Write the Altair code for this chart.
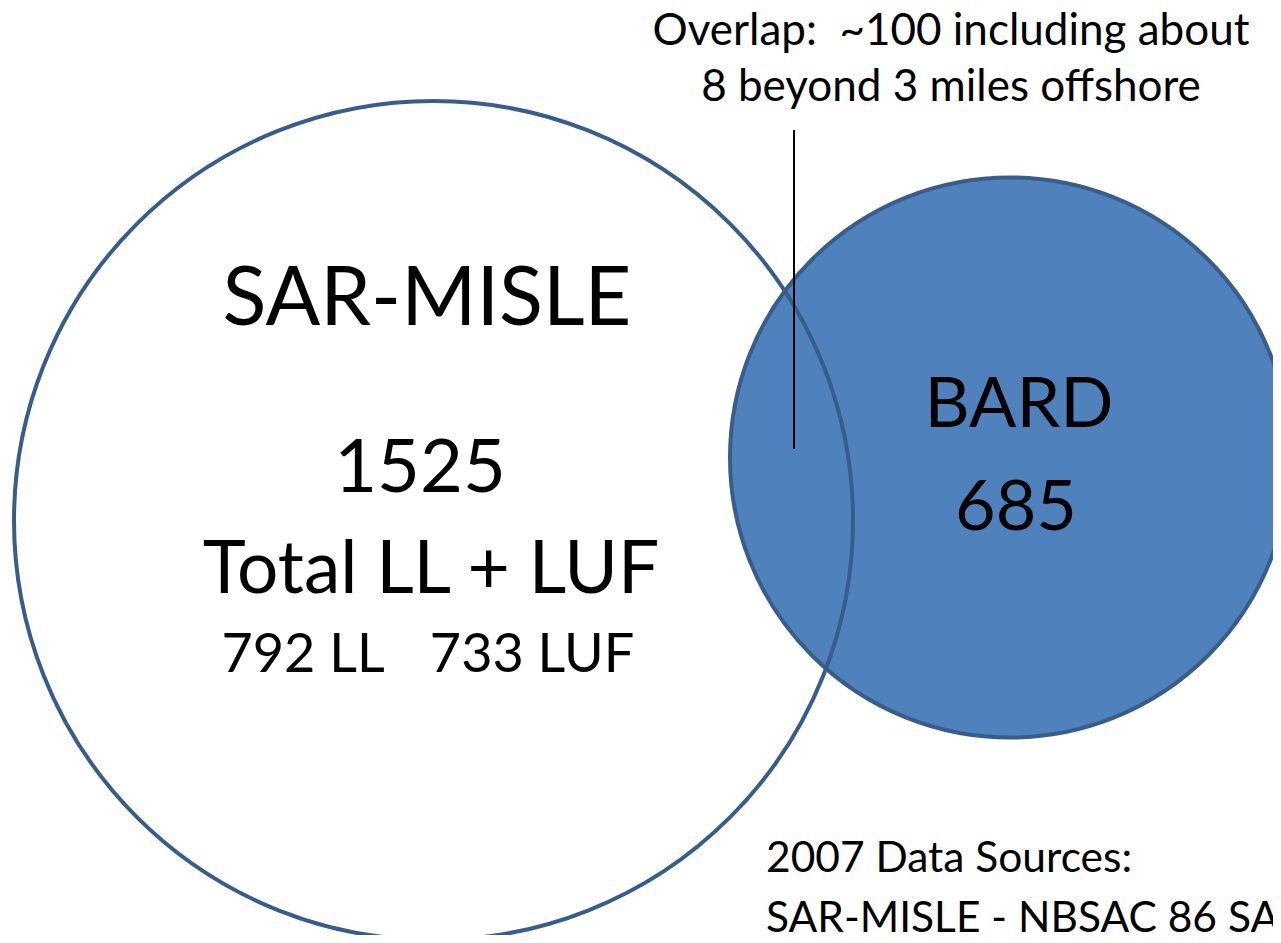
import altair as alt
import pandas as pd

# ---- chart values ----
set_names = ["SAR-MISLE", "BARD"]
set_totals = [1525, 685]
sar_parts = ["792 LL", "733 LUF"]
overlap_lines = ["Overlap:\u00a0\u00a0~100 including about", "8 beyond 3 miles offshore"]
source_lines = ["2007 Data Sources:", "SAR-MISLE - NBSAC 86 SAR"]

# ---- layout (pixel coordinates of the slide) ----
W, H = 1265, 927
circle_cx = [433.5, 1010]
circle_cy = [520.5, 457.5]
circle_r = [419.5, 280]

FONT = "Lato"
BLUE = "#4F81BD"
EDGE = "#385D8A"

circles = pd.DataFrame({
    "name": set_names,
    "cx": circle_cx,
    "cy": circle_cy,
    "size": [(2 * r) ** 2 for r in circle_r],
})

center_texts = pd.DataFrame({
    "text": [set_names[0], str(set_totals[0]), "Total LL + LUF", sar_parts[0], sar_parts[1],
             set_names[1], str(set_totals[1]), overlap_lines[0], overlap_lines[1]],
    "x": [427, 420, 431, 303, 532, 1019, 1016, 951, 951],
    "y": [325, 492, 593, 672, 672, 427, 530, 45, 101],
    "fs": [81, 74, 73, 54, 54, 70, 70, 44, 44],
})

left_texts = pd.DataFrame({
    "text": source_lines,
    "x": [766, 766],
    "y": [872, 932],
    "fs": [42.5, 42.5],
})

pointer = pd.DataFrame({"x": [794], "y": [130], "y2": [449]})

xs = alt.Scale(domain=[8, 8 + W], nice=False, zero=False)
ys = alt.Scale(domain=[8, 8 + H], nice=False, zero=False, reverse=True)

def X(f):
    return alt.X(f, type="quantitative", scale=xs, axis=None)

def Y(f):
    return alt.Y(f, type="quantitative", scale=ys, axis=None)

blue = alt.Chart(circles[circles.name == "BARD"]).mark_circle(
    fill=BLUE, stroke=EDGE, strokeWidth=4, opacity=1, fillOpacity=1, strokeOpacity=1, clip=True
).encode(x=X("cx"), y=Y("cy"), size=alt.Size("size:Q", scale=None, legend=None))

white = alt.Chart(circles[circles.name == "SAR-MISLE"]).mark_circle(
    fill="white", fillOpacity=0, stroke=EDGE, strokeWidth=4, opacity=1, strokeOpacity=1, clip=True
).encode(x=X("cx"), y=Y("cy"), size=alt.Size("size:Q", scale=None, legend=None))

rule = alt.Chart(pointer).mark_rule(color="black", strokeWidth=2).encode(
    x=X("x"), y=Y("y"), y2="y2"
)

txt_c = alt.Chart(center_texts).mark_text(
    font=FONT, align="center", baseline="alphabetic", color="black"
).encode(x=X("x"), y=Y("y"), text="text:N", size=alt.Size("fs:Q", scale=None, legend=None))

txt_l = alt.Chart(left_texts).mark_text(
    font=FONT, align="left", baseline="alphabetic", color="black", clip=True
).encode(x=X("x"), y=Y("y"), text="text:N", size=alt.Size("fs:Q", scale=None, legend=None))

chart = alt.layer(blue, white, rule, txt_c, txt_l).properties(
    width=W, height=H, padding=0, autosize="none", background="white"
).configure_view(stroke=None)

chart.save("out.html", embed_options={"renderer": "svg", "actions": False})
